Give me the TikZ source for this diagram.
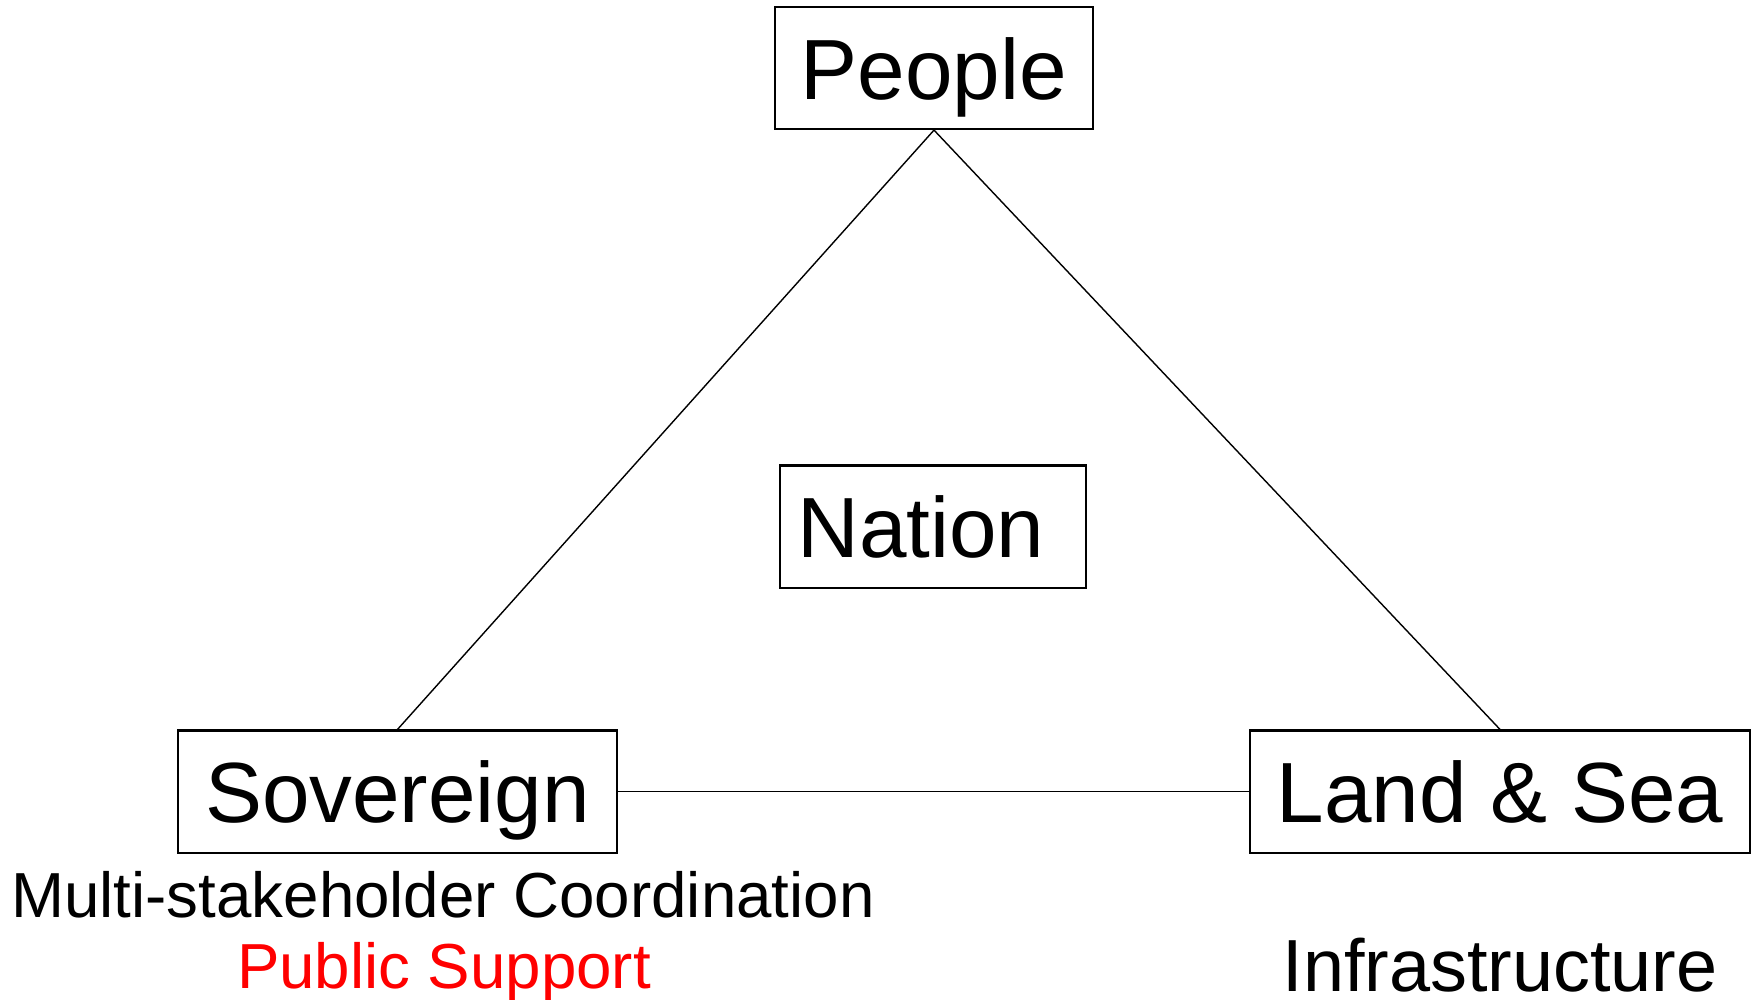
\documentclass[tikz,border=0pt]{standalone}
\usepackage{fontspec}
\setmainfont{Liberation Sans}
\tikzset{
corner/.style={
	  draw, line width=0.6pt, inner xsep=0pt, inner ysep=0pt,
	    text height=0.92cm, text depth=0.30cm,
    font=\fontsize{24.3}{29}\selectfont},
tie/.style={line width=0.4pt},
note/.style={anchor=base, inner sep=0pt, font=\fontsize{18.1}{21}\selectfont}
}

\begin{document}
\begin{tikzpicture}[x=0.01cm, y=-0.01cm]
	\useasboundingbox (0,0) rectangle (1758,999);
	\node[corner, minimum width=3.18cm] (people) at (934,68) {People};
	\node[corner, minimum width=3.06cm] (nation) at (933,526.5) {Nation\kern0.24cm};
	\node[corner, minimum width=4.39cm] (sovereign) at (397.5,791.5) {Sovereign};
	\node[corner, minimum width=5.00cm] (land) at (1500,791.5) {Land \& Sea};

	\draw[tie] (people.south) -- (sovereign.north);
	\draw[tie] (people.south) -- (land.north);
	\draw[tie] (sovereign) -- (land);

	\node[note] (coordination) at (443,917) {Multi-stakeholder Coordination};
	\node[note, text=red] (support) at (444,988) {Public Support};
	\node[note, font=\fontsize{21}{25}\selectfont] (infra) at (1500,991) {Infrastructure};

\end{tikzpicture}
\end{document}
